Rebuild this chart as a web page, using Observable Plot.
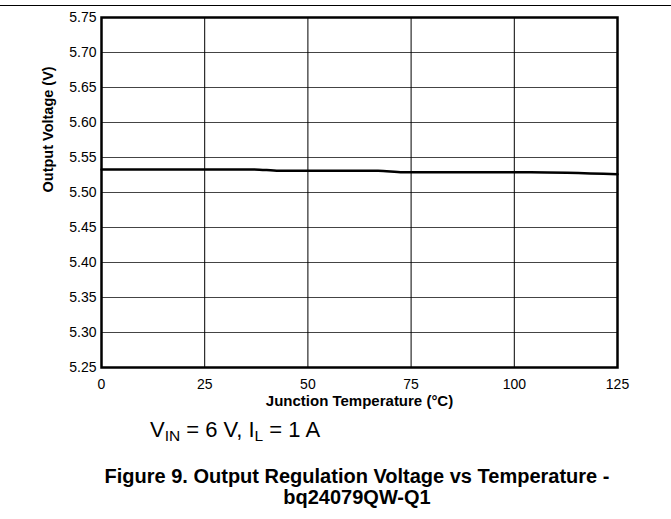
<!DOCTYPE html>
<html><head><meta charset="utf-8">
<script src="https://cdn.jsdelivr.net/npm/d3@7"></script>
<script src="https://cdn.jsdelivr.net/npm/@observablehq/plot@0.6"></script>
<style>
body{margin:0;background:#fff;font-family:"Liberation Sans",Arial,sans-serif;}
#wrap{position:relative;width:671px;height:519px;overflow:hidden;background:#fff;}
#rule{position:absolute;left:0;top:5px;width:671px;height:1px;background:#000;}
#chart{position:absolute;left:0;top:0;}
#cond{position:absolute;left:150px;top:419px;font-size:22px;line-height:22px;white-space:nowrap;color:#000;}
#cond sub{font-size:15.5px;vertical-align:-4px;line-height:0;}
#caption{position:absolute;left:0;top:466px;width:714px;text-align:center;font-weight:bold;font-size:20px;line-height:21px;color:#000;}
</style>
</head><body>
<div id="wrap">
<div id="chart"></div>
<div id="rule"></div>
<div id="cond">V<sub>IN</sub> = 6 V, I<sub>L</sub> = 1 A</div>
<div id="caption">Figure 9. Output Regulation Voltage vs Temperature -<br>bq24079QW-Q1</div>
</div>
<script>
const temps = [0, 37, 43, 67, 73, 104, 125];
const volts = [5.533, 5.533, 5.531, 5.531, 5.529, 5.529, 5.526];
const xTicks = [0, 25, 50, 75, 100, 125];
const xGrid = [25, 50, 75, 100];
const yTicks = [5.25, 5.30, 5.35, 5.40, 5.45, 5.50, 5.55, 5.60, 5.65, 5.70, 5.75];
const xLabel = "Junction Temperature (°C)";
const yLabel = "Output Voltage (V)";

const data = temps.map((t, i) => ({t, v: volts[i]}));

const chart = Plot.plot({
  width: 671,
  height: 415,
  marginTop: 17,
  marginLeft: 101,
  marginRight: 54,
  marginBottom: 48,
  style: {fontFamily: "'Liberation Sans', Arial, sans-serif", fontSize: "14px", color: "#000", background: "transparent"},
  x: {domain: [0, 125]},
  y: {domain: [5.25, 5.75]},
  marks: [
    Plot.gridY(yTicks, {stroke: "#444", strokeOpacity: 1, strokeWidth: 1.2}),
    Plot.gridX(xGrid, {stroke: "#000", strokeOpacity: 1, strokeWidth: 1}),
    Plot.line(data, {x: "t", y: "v", stroke: "#000", strokeWidth: 2.5, curve: "monotone-x"}),
    Plot.frame({stroke: "#000", strokeWidth: 2.5}),
    Plot.axisX({ticks: xTicks, tickSize: 0, tickPadding: 12, label: null, fontSize: 14}),
    Plot.axisY({ticks: yTicks, tickSize: 0, tickPadding: 5, tickFormat: d3.format(".2f"), label: null, fontSize: 14}),
    Plot.text([xLabel], {frameAnchor: "bottom", dy: 38, fontWeight: "bold", fontSize: 15, fill: "#000"}),
    Plot.text([yLabel], {frameAnchor: "left", dx: -53, rotate: -90, fontWeight: "bold", fontSize: 14.5, fill: "#000"})
  ]
});
document.getElementById("chart").appendChild(chart);
</script>
</body></html>
